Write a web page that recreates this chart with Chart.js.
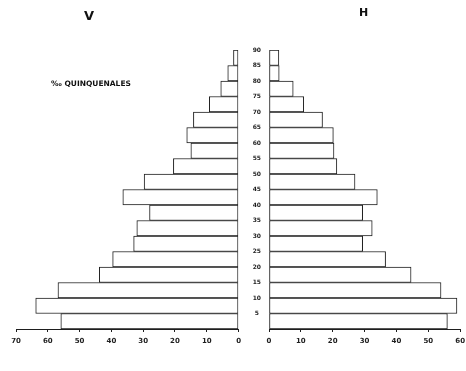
<!DOCTYPE html>
<html>
<head>
<meta charset="utf-8">
<script src="https://cdn.jsdelivr.net/npm/chart.js@4.4.0/dist/chart.umd.min.js"></script>
<style>
body{margin:0;background:#fff;width:466px;height:371px;overflow:hidden;position:relative;font-family:"DejaVu Sans",sans-serif}
.box{position:absolute;top:0;height:371px}
#vBox{left:0;width:246px}
#hBox{left:238px;width:232px}
.lbl{position:absolute;color:#111;font-weight:bold;white-space:nowrap}
</style>
</head>
<body>
<div class="box" id="vBox"><canvas id="chartV"></canvas></div>
<div class="box" id="hBox"><canvas id="chartH"></canvas></div>
<div class="lbl" style="left:84px;top:8px;font-size:13px">V</div>
<div class="lbl" style="left:359px;top:6px;font-size:11px">H</div>
<div class="lbl" style="left:51px;top:79px;font-size:7.5px">‰ QUINQUENALES</div>
<script>
// age groups, top to bottom, labelled by their upper limit
var ages = ["90", "85", "80", "75", "70", "65", "60", "55", "50", "45",
            "40", "35", "30", "25", "20", "15", "10", "5"];
// per mille, V (left) and H (right)
var varones = [1.6, 3.4, 5.6, 9.2, 14.2, 16.3, 15, 20.5, 29.7, 36.4,
               28, 32, 33, 39.6, 43.8, 56.8, 63.8, 55.9];
var hembras = [3.1, 3.2, 7.6, 10.9, 16.8, 20.2, 20.4, 21.3, 27, 34,
               29.4, 32.4, 29.4, 36.6, 44.6, 54, 59, 56];

var tickFont = {family: "DejaVu Sans", size: 7, weight: "bold"};
var ink = "#1e1e1e";

function barSet(values) {
    return {
        data: values,
        backgroundColor: "#ffffff",
        borderColor: ink,
        borderWidth: 1,
        borderSkipped: false,
        categoryPercentage: 1,
        barPercentage: 1
    };
}

function xAxis(max, reverse) {
    return {
        type: "linear",
        min: 0,
        max: max,
        reverse: reverse,
        ticks: {stepSize: 10, color: ink, font: tickFont, padding: 5},
        grid: {drawOnChartArea: false, tickLength: 3, color: ink},
        border: {color: ink, width: 1},
        afterFit: function (s) { s.height = 42; }
    };
}

var common = {
    indexAxis: "y",
    responsive: true,
    maintainAspectRatio: false,
    animation: false,
    plugins: {legend: {display: false}, tooltip: {enabled: false}}
};

new Chart(document.getElementById("chartV"), {
    type: "bar",
    data: {labels: ages, datasets: [barSet(varones)]},
    options: Object.assign({}, common, {
        layout: {padding: {top: 50, left: 16, right: 4, bottom: 0}},
        scales: {
            x: xAxis(70, true),
            y: {type: "category", display: false}
        }
    })
});

new Chart(document.getElementById("chartH"), {
    type: "bar",
    data: {labels: ages, datasets: [barSet(hembras)]},
    options: Object.assign({}, common, {
        layout: {padding: {top: 50, left: 0, right: 3, bottom: 0}},
        scales: {
            x: xAxis(60, false),
            y: {
                type: "category",
                position: "left",
                grid: {display: false},
                border: {display: false},
                ticks: {
                    color: ink,
                    font: {family: "DejaVu Sans", size: 6, weight: "bold"},
                    crossAlign: "center",
                    labelOffset: -7.75,
                    padding: 0
                },
                afterFit: function (s) { s.width = 31; }
            }
        }
    })
});
</script>
</body>
</html>
